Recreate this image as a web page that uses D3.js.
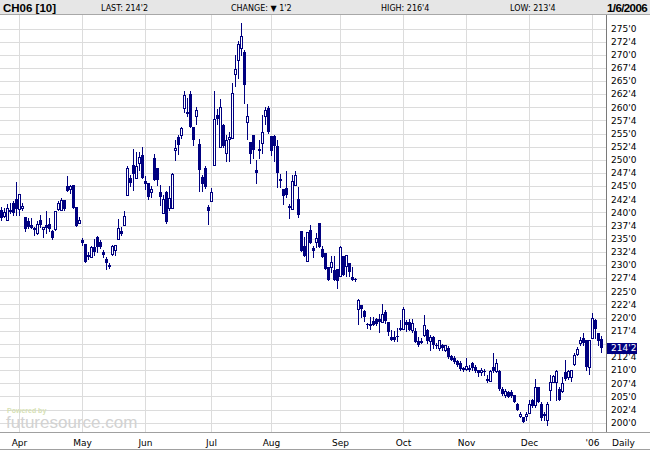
<!DOCTYPE html>
<html>
<head>
<meta charset="utf-8">
<title>CH06 daily</title>
<style>
  body { margin: 0; background: #fff; }
  svg { display: block; }
</style>
</head>
<body>
<svg id="chart" width="650" height="450"></svg>
<script src="https://d3js.org/d3.v7.min.js"></script>
<script>
// trading days (Mar 23 2005 .. Jan 6 2006), exchange holidays skipped
const holidays = ["2005-03-25", "2005-05-30", "2005-07-04", "2005-09-05",
                  "2005-11-24", "2005-12-26", "2006-01-02"];

const monthLabels = ["Apr", "May", "Jun", "Jul", "Aug", "Sep", "Oct", "Nov", "Dec", "'06"];

const yTicks = [200, 202.5, 205, 207.5, 210, 212.5, 215, 217.5, 220, 222.5, 225, 227.5,
                230, 232.5, 235, 237.5, 240, 242.5, 245, 247.5, 250, 252.5, 255, 257.5,
                260, 262.5, 265, 267.5, 270, 272.5, 275];

// OHLC, one value per trading day
const opens = [
  240.5, 239.4, 238.6, 240.5, 241.8, 242.5,
  240.6, 240.8, 239.1, 238.4, 237.6, 237.0, 236.0, 238.6, 236.8, 237.6, 237.8, 236.4, 236.8, 240.6, 240.5, 242.4, 245.1, 244.5, 245.3, 241.0, 237.9,
  234.8, 234.0, 231.9, 231.6, 233.5, 235.4, 234.4, 232.4, 231.2, 230.0, 232.1, 232.9, 234.9, 236.5, 237.6, 243.4, 246.5, 249.0, 246.6, 249.5, 251.0,
  246.0, 245.6, 243.8, 250.4, 248.5, 243.9, 239.9, 243.9, 240.8, 240.8, 251.8, 254.4, 254.8, 259.9, 259.1, 262.6, 256.3, 258.3, 253.0, 246.7, 248.5, 241.0,
  242.2, 249.0, 258.6, 252.4, 256.7, 251.3, 254.0, 254.2, 266.4, 269.1, 271.3, 270.6, 257.3, 253.5, 254.8, 248.0, 251.8, 253.3, 258.3, 259.9,
  254.5, 254.5, 252.7, 246.4, 244.4, 244.6, 241.2, 240.7, 245.3, 242.5, 236.4, 233.7, 230.8, 236.7, 233.2, 234.3, 237.9, 233.1, 232.3, 229.6, 229.6, 229.0, 229.3,
  228.0, 231.7, 229.9, 230.4, 227.8, 227.4, 221.7, 222.3, 221.2, 218.8, 218.5, 219.4, 219.7, 219.7, 219.1, 221.1, 219.1, 216.4, 216.3, 216.5, 218.0,
  217.8, 219.1, 219.1, 217.6, 217.4, 215.5, 215.3, 216.7, 217.7, 215.5, 216.3, 214.8, 214.2, 214.7, 213.9, 214.3, 212.6, 212.3, 211.7, 211.3, 210.4,
  210.2, 210.4, 211.3, 210.6, 210.0, 209.6, 209.9, 208.4, 208.0, 210.6, 209.9, 209.9, 206.5, 205.2, 205.9, 205.9, 205.2, 203.6, 201.3, 201.1, 201.2,
  201.9, 204.4, 203.3, 206.7, 203.6, 201.4, 200.5, 206.3, 207.8, 207.8, 206.5, 206.1, 209.7, 208.6, 208.7, 211.1, 213.0, 215.2, 216.2, 215.7, 210.6,
  216.2, 219.6, 217.0, 216.0
];
const highs = [
  241.0, 240.8, 241.6, 241.8, 242.1, 245.8,
  243.6, 241.8, 239.2, 238.9, 238.9, 237.3, 238.3, 239.5, 237.3, 240.2, 238.9, 236.7, 240.2, 242.1, 242.7, 242.4, 246.9, 245.3, 245.3, 241.1, 239.2,
  235.1, 234.0, 232.5, 233.6, 235.0, 235.5, 234.8, 232.8, 231.6, 230.3, 233.8, 233.8, 238.7, 237.3, 240.2, 248.8, 247.2, 252.0, 251.5, 251.5, 252.5,
  247.0, 245.6, 245.0, 251.2, 248.5, 245.2, 243.4, 244.0, 245.0, 247.5, 253.7, 254.8, 256.3, 263.2, 261.8, 263.2, 256.3, 260.0, 254.0, 247.2, 248.8, 241.5,
  244.6, 263.2, 259.6, 261.6, 256.8, 254.8, 255.4, 264.6, 269.9, 272.6, 276.1, 271.0, 260.7, 253.5, 254.8, 250.0, 253.7, 258.6, 260.0, 260.2,
  254.6, 254.7, 253.7, 247.4, 244.5, 247.8, 241.7, 247.1, 247.8, 244.8, 236.4, 235.3, 236.3, 237.7, 233.7, 236.0, 238.0, 233.7, 232.3, 229.6, 231.8, 231.8, 229.3,
  233.7, 231.7, 231.9, 230.4, 229.6, 227.6, 223.6, 222.4, 221.4, 218.9, 220.1, 220.2, 219.9, 220.6, 222.5, 221.5, 219.1, 217.6, 217.4, 218.0, 219.6,
  222.1, 219.6, 219.7, 219.7, 218.0, 216.3, 216.1, 220.4, 217.8, 216.7, 216.5, 215.2, 215.7, 214.9, 214.8, 214.5, 212.9, 212.6, 212.0, 211.7, 210.6,
  212.4, 210.9, 211.5, 211.0, 210.1, 210.4, 210.2, 209.0, 210.0, 213.3, 212.2, 210.0, 206.7, 206.5, 206.0, 206.2, 205.2, 203.8, 202.0, 201.1, 202.0,
  204.4, 204.6, 208.3, 206.7, 204.0, 202.1, 204.0, 209.0, 209.0, 210.0, 206.7, 208.7, 211.9, 210.1, 210.1, 213.2, 214.4, 216.3, 217.1, 215.8, 215.7,
  220.9, 219.7, 217.1, 216.5
];
const lows = [
  238.5, 239.2, 238.6, 239.9, 239.5, 239.5,
  239.5, 240.5, 236.4, 237.0, 237.0, 235.7, 235.9, 237.3, 235.4, 236.0, 236.4, 234.9, 236.6, 240.5, 240.5, 240.5, 244.0, 243.7, 240.8, 237.4, 237.9,
  233.8, 230.5, 231.2, 231.5, 232.0, 232.4, 233.3, 231.6, 229.2, 229.5, 231.9, 232.0, 234.9, 235.8, 237.6, 243.4, 245.0, 244.2, 246.5, 248.0, 246.5,
  244.5, 242.5, 243.0, 246.2, 245.2, 241.5, 239.9, 238.0, 240.5, 240.8, 249.9, 251.1, 254.2, 259.1, 258.3, 256.3, 252.9, 256.8, 244.0, 244.0, 244.6, 237.8,
  242.1, 249.0, 256.8, 252.4, 252.4, 249.7, 249.7, 254.2, 264.0, 265.5, 270.0, 260.8, 253.9, 249.4, 250.4, 245.6, 250.4, 251.3, 256.8, 255.1,
  250.9, 249.8, 244.8, 244.8, 241.7, 243.0, 238.9, 240.7, 245.3, 239.2, 232.6, 231.7, 230.8, 234.1, 231.5, 233.4, 233.4, 231.5, 229.3, 227.2, 228.7, 227.1, 225.7,
  228.0, 228.1, 228.0, 228.0, 227.1, 226.9, 218.8, 220.2, 219.4, 218.1, 217.9, 218.5, 218.5, 217.2, 219.1, 219.0, 216.7, 215.7, 215.5, 215.5, 217.6,
  217.8, 217.4, 217.7, 217.2, 215.3, 214.5, 215.2, 216.5, 215.2, 213.9, 214.2, 214.2, 213.9, 213.9, 213.7, 212.3, 212.0, 211.3, 210.8, 210.1, 209.9,
  210.0, 209.8, 210.1, 209.6, 208.8, 209.1, 209.1, 207.7, 208.0, 209.7, 209.7, 206.2, 205.2, 204.9, 204.9, 204.8, 204.0, 202.4, 201.1, 200.1, 200.6,
  201.8, 203.0, 203.0, 204.0, 200.6, 200.5, 199.5, 204.3, 207.8, 204.3, 204.4, 205.9, 208.1, 208.4, 208.0, 210.9, 212.8, 214.8, 214.8, 210.0, 209.2,
  216.2, 216.2, 214.8, 213.5
];
const closes = [
  239.0, 240.1, 240.8, 240.0, 239.9, 240.6,
  243.6, 241.3, 236.8, 237.3, 237.0, 236.7, 237.8, 237.6, 237.3, 237.0, 236.8, 235.1, 240.2, 241.8, 242.4, 240.6, 244.0, 245.1, 240.8, 237.4, 238.6,
  234.1, 230.5, 231.6, 233.5, 232.5, 233.5, 233.5, 231.9, 230.4, 229.7, 233.6, 233.8, 237.0, 235.9, 239.4, 248.5, 245.7, 247.4, 248.9, 250.5, 246.6,
  245.5, 242.9, 244.4, 246.2, 246.2, 242.9, 242.6, 238.2, 242.7, 247.3, 252.3, 252.9, 256.1, 262.3, 258.7, 256.3, 253.7, 259.4, 248.1, 245.5, 244.8, 240.2,
  243.9, 257.7, 257.7, 260.0, 252.7, 253.7, 254.3, 262.7, 267.3, 272.1, 273.5, 264.3, 258.3, 251.1, 251.8, 247.6, 252.1, 255.3, 259.4, 255.3,
  251.7, 252.6, 247.5, 246.0, 243.1, 243.3, 240.8, 245.9, 247.2, 239.5, 232.6, 231.7, 236.3, 234.1, 232.7, 235.2, 233.4, 231.5, 229.3, 227.2, 230.6, 227.1, 226.9,
  233.5, 228.1, 231.9, 228.7, 227.1, 227.1, 223.4, 221.7, 220.1, 218.5, 218.8, 218.5, 218.8, 219.1, 220.6, 219.3, 217.2, 215.8, 215.8, 216.3, 217.6,
  221.6, 218.5, 217.7, 219.0, 215.3, 214.7, 215.6, 218.5, 215.5, 216.4, 214.7, 214.5, 215.7, 214.2, 214.7, 212.5, 212.0, 211.5, 211.0, 210.2, 210.1,
  210.8, 210.0, 210.4, 209.8, 209.4, 210.1, 209.7, 207.9, 209.8, 209.9, 211.3, 206.5, 205.5, 206.1, 204.9, 205.0, 204.0, 202.5, 201.7, 200.1, 201.7,
  203.6, 203.1, 206.7, 204.0, 200.8, 201.7, 203.6, 207.8, 208.8, 209.9, 204.4, 207.5, 208.4, 209.9, 210.0, 212.9, 214.1, 215.8, 215.1, 210.6, 215.7,
  220.0, 217.9, 215.5, 214.25
];

const header = ["CH06 [10]", "LAST: 214'2", "CHANGE: \u25BC 1'2", "HIGH: 216'4", "LOW: 213'4", "1/6/2006"];
const lastPrice = 214.25;

const navy = "#000080";
const sans = "Liberation Sans, Arial, sans-serif";
const fmtDay = d3.timeFormat("%Y-%m-%d");
const dates = d3.timeDay.range(new Date(2005, 2, 23), new Date(2006, 0, 7))
    .filter(d => d.getDay() % 6 !== 0 && !holidays.includes(fmtDay(d)));
const n = Math.min(dates.length, closes.length);
const days = d3.range(n);

const x = d3.scalePoint()
    .domain(days)
    .range([1.5, 1.5 + 3 * (n - 1)]);

const y = d3.scaleLinear()
    .domain([200, 275])
    .range([422.7, 28.5]);

const priceFmt = v => Math.floor(v) + "'" + Math.round((v - Math.floor(v)) * 8);

// first trading day of every month after March
const monthStarts = days.filter(i => i > 0 && dates[i].getMonth() !== dates[i - 1].getMonth());

const svg = d3.select("#chart")
    .attr("font-family", "DejaVu Sans, sans-serif")
    .attr("shape-rendering", "crispEdges");

// grid
svg.append("g")
  .selectAll("line")
  .data(yTicks)
  .enter().append("line")
    .attr("x1", 0)
    .attr("x2", 606)
    .attr("y1", d => Math.round(y(d)) + 0.5)
    .attr("y2", d => Math.round(y(d)) + 0.5)
    .attr("stroke", "#dcdcdc");

svg.append("g")
  .selectAll("line")
  .data(monthStarts)
  .enter().append("line")
    .attr("x1", d => x(d))
    .attr("x2", d => x(d))
    .attr("y1", 15)
    .attr("y2", 433)
    .attr("stroke", "#dcdcdc");

// watermark
const wm = svg.append("g").attr("shape-rendering", "auto");
wm.append("text")
    .attr("x", 7)
    .attr("y", 413)
    .attr("font-family", sans)
    .attr("font-size", 7)
    .attr("font-weight", "bold")
    .attr("fill", "#d6dfb4")
    .text("Powered by");
wm.append("text")
    .attr("x", 6)
    .attr("y", 428)
    .attr("font-family", sans)
    .attr("font-size", 17)
    .attr("fill", "#d2d2d2")
    .text("futuresource.com");

// candles
const candle = svg.append("g")
  .selectAll("g")
  .data(days)
  .enter().append("g");

candle.append("line")
    .attr("x1", i => x(i))
    .attr("x2", i => x(i))
    .attr("y1", i => Math.round(y(highs[i])))
    .attr("y2", i => Math.round(y(lows[i])) + 1)
    .attr("stroke", navy);

candle.append("rect")
    .attr("x", i => closes[i] > opens[i] ? x(i) - 1 : x(i) - 1.5)
    .attr("width", i => closes[i] > opens[i] ? 2 : 3)
    .attr("y", i => Math.round(y(Math.max(opens[i], closes[i]))) + (closes[i] > opens[i] ? 0.5 : 0))
    .attr("height", i => Math.max(1, Math.round(y(Math.min(opens[i], closes[i]))) - Math.round(y(Math.max(opens[i], closes[i])))))
    .attr("fill", i => closes[i] > opens[i] ? "#fff" : navy)
    .attr("stroke", i => closes[i] > opens[i] ? navy : "none");

// axis lines and frame
svg.append("line")
    .attr("x1", 606.5).attr("x2", 606.5)
    .attr("y1", 14).attr("y2", 433)
    .attr("stroke", "#7a7a7a");
svg.append("line")
    .attr("x1", 0).attr("x2", 650)
    .attr("y1", 432.5).attr("y2", 432.5)
    .attr("stroke", "#a0a0a0");
svg.append("line")
    .attr("x1", 0).attr("x2", 650)
    .attr("y1", 449.5).attr("y2", 449.5)
    .attr("stroke", "#a0a0a0");

// price labels (the one under the last-price box is hidden, as in the original)
svg.append("g")
  .selectAll("text")
  .data(yTicks.filter(t => Math.abs(y(t) - y(lastPrice)) > 8))
  .enter().append("text")
    .attr("x", 611)
    .attr("y", d => y(d))
    .attr("dy", "0.36em")
    .attr("font-size", 9)
    .attr("fill", "#000")
    .text(priceFmt);

svg.append("rect")
    .attr("x", 607)
    .attr("y", Math.round(y(lastPrice)) - 5)
    .attr("width", 30)
    .attr("height", 11)
    .attr("fill", navy);
svg.append("text")
    .attr("x", 611)
    .attr("y", y(lastPrice))
    .attr("dy", "0.38em")
    .attr("font-size", 9)
    .attr("fill", "#fff")
    .text(priceFmt(lastPrice));

// month labels
svg.append("g")
  .selectAll("text")
  .data(monthStarts)
  .enter().append("text")
    .attr("x", d => x(d))
    .attr("y", 446)
    .attr("text-anchor", "middle")
    .attr("font-size", 9)
    .text((d, i) => monthLabels[i]);
svg.append("text")
    .attr("x", 612)
    .attr("y", 446)
    .attr("font-size", 9)
    .text("Daily");

// header bar
svg.append("rect")
    .attr("x", 0).attr("y", 0)
    .attr("width", 650).attr("height", 14)
    .attr("fill", "#e6e6e6");
svg.append("line")
    .attr("x1", 0).attr("x2", 650)
    .attr("y1", 14.5).attr("y2", 14.5)
    .attr("stroke", "#a8a8a8");

const headerX = [3, 101, 231, 381, 510, 647];
const isBold = i => i === 0 || i === header.length - 1;
svg.append("g")
  .selectAll("text")
  .data(header)
  .enter().append("text")
    .attr("x", (d, i) => headerX[i])
    .attr("y", (d, i) => isBold(i) ? 12 : 11)
    .attr("text-anchor", (d, i) => i === header.length - 1 ? "end" : "start")
    .attr("font-family", (d, i) => isBold(i) ? sans : "DejaVu Sans, sans-serif")
    .attr("font-weight", (d, i) => isBold(i) ? "bold" : "normal")
    .attr("font-size", (d, i) => isBold(i) ? 11.5 : 8)
    .attr("letter-spacing", (d, i) => i === header.length - 1 ? -0.6 : 0)
    .text(d => d);
</script>
</body>
</html>
